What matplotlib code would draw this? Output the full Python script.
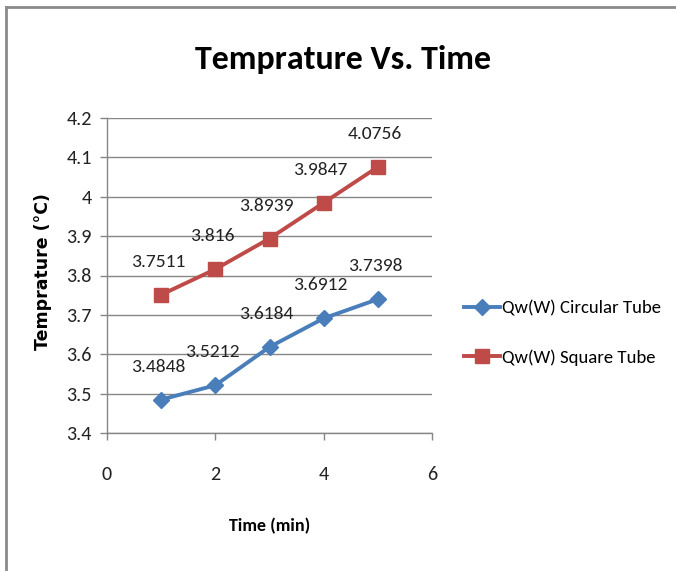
import matplotlib
matplotlib.use("Agg")
import matplotlib.pyplot as plt
from matplotlib.lines import Line2D
from matplotlib import font_manager

time_min = [1, 2, 3, 4, 5]
circular = [3.4848, 3.5212, 3.6184, 3.6912, 3.7398]
square = [3.7511, 3.816, 3.8939, 3.9847, 4.0756]
circ_labels = ["3.4848", "3.5212", "3.6184", "3.6912", "3.7398"]
sq_labels = ["3.7511", "3.816", "3.8939", "3.9847", "4.0756"]
yticks = [3.4, 3.5, 3.6, 3.7, 3.8, 3.9, 4.0, 4.1, 4.2]
ytick_labels = ["3.4", "3.5", "3.6", "3.7", "3.8", "3.9", "4", "4.1", "4.2"]
xticks = [0, 2, 4, 6]

names = {f.name for f in font_manager.fontManager.ttflist}
pref = ["Carlito", "Lato"]
main = next((n for n in pref if n in names), "DejaVu Sans")
plt.rcParams['font.family'] = [main, "DejaVu Sans"]

W, H = 676, 571
fig = plt.figure(figsize=(W/100, H/100), dpi=100)
ax = fig.add_axes([107/W, 1-433/H, (432-107)/W, (433-118)/H])

blue = "#4A7EBB"
red = "#BE4B48"
grid = "#868686"

ax.plot(time_min, circular, color=blue, lw=2.8, marker="D", ms=8, mec=blue, mfc=blue,
        label="Qw(W) Circular Tube", zorder=3)
ax.plot(time_min, square, color=red, lw=2.8, marker="s", ms=10, mec=red, mfc=red,
        label="Qw(W) Square Tube", zorder=3)

for x, y, t in zip(time_min, circular, circ_labels):
    ax.annotate(t, (x, y), xytext=(-3, 33), textcoords="offset pixels",
                ha="center", va="center", fontsize=14, color="#222222")
for x, y, t in zip(time_min, square, sq_labels):
    ax.annotate(t, (x, y), xytext=(-3, 33), textcoords="offset pixels",
                ha="center", va="center", fontsize=14, color="#222222")

ax.set_xlim(0, 6)
ax.set_ylim(3.4, 4.2)
ax.set_xticks(xticks)
ax.set_xticklabels([str(v) for v in xticks])
ax.set_yticks(yticks)
ax.set_yticklabels(ytick_labels)
ax.yaxis.grid(True, color=grid, lw=1)
ax.set_axisbelow(True)
for s in ["top", "right"]:
    ax.spines[s].set_visible(False)
for s in ["left", "bottom"]:
    ax.spines[s].set_color(grid)
    ax.spines[s].set_linewidth(1)
ax.tick_params(axis="both", colors=grid, labelcolor="#222222", labelsize=14.5, length=5, width=1)
ax.tick_params(axis="y", pad=6)
ax.tick_params(axis="x", pad=19)

ax.set_xlabel("Time (min)", fontsize=13, fontweight="bold", labelpad=25)
fig.text(43/W, 1-272/H, "Temprature (°C)", rotation=90, ha="center", va="center",
         fontsize=12.5, fontweight="bold", family=["DejaVu Sans"])

fig.text(343/W, 1-60/H, "Temprature Vs. Time", ha="center", va="center",
         fontsize=24.5, fontweight="bold")

ax.legend(loc="center left", bbox_to_anchor=(464/W, 1-333/H), bbox_transform=fig.transFigure,
          frameon=False, fontsize=13.5, handlelength=1.9, handletextpad=0.15, labelspacing=1.75,
          borderpad=0, borderaxespad=0)

# outer chart border (left and top)
fig.add_artist(Line2D([6/W, 6/W], [0, 1-7/H], transform=fig.transFigure, color="#8a8a8a", lw=2))
fig.add_artist(Line2D([6/W, 1], [1-7/H, 1-7/H], transform=fig.transFigure, color="#8a8a8a", lw=2))

fig.savefig("out.png", dpi=100)
